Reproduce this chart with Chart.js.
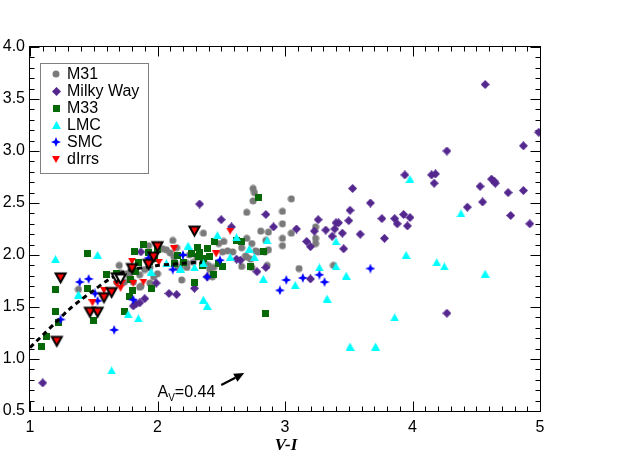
<!DOCTYPE html>
<html><head><meta charset="utf-8">
<script src="https://cdn.jsdelivr.net/npm/chart.js@4.4.0/dist/chart.umd.min.js"></script>
<style>html,body{margin:0;padding:0;background:#fff;}canvas{display:block;}</style>
</head><body>
<canvas id="c" width="639" height="471"></canvas>
<script>
// ---------- data (V-I, y) ----------
const m31 = [[2.75,2.64],[2.76,2.60],[2.75,2.52],[3.05,2.54],[2.70,2.41],[2.98,2.42],[2.98,2.30],[2.81,2.23],[2.87,2.22],[3.05,2.21],
[2.98,2.16],[2.70,2.16],[2.74,2.11],[2.85,2.14],[2.98,2.09],[2.66,2.07],[2.77,2.04],[2.87,2.05],[2.70,1.98],[2.73,1.96],
[3.11,1.87],[3.38,1.90],[3.24,2.27],[3.24,2.16],[3.24,2.11],[2.36,2.21],[2.52,2.13],[2.48,2.11],[2.12,2.14],[2.59,2.03],
[2.55,2.04],[2.69,1.99],[2.79,2.03],[2.84,2.03],[2.86,1.90],[2.66,1.89],[2.74,1.88],[2.36,1.95],[2.40,1.90],[2.44,1.88],
[2.41,1.86],[2.25,2.00],[2.20,1.93],[2.23,1.92],[2.28,1.93],[2.13,1.98],[2.43,1.79],[2.51,2.03],[1.93,2.09],[2.04,2.06],
[2.07,2.05],[2.10,2.02],[2.14,1.92],[2.16,1.88],[2.19,1.76],[2.23,1.88],[1.70,1.90],[1.71,1.83],[1.76,1.82],[1.81,1.86],
[1.86,1.81],[1.90,1.86],[1.93,1.88],[1.86,1.69],[2.00,1.82],[1.97,1.79],[1.74,1.74],[1.68,1.74],[1.78,1.79],[1.94,1.73],
[1.38,1.67],[2.31,1.98],[2.37,1.92],[2.18,1.88],[1.94,1.88],[1.79,1.85],[1.87,1.70],[1.81,1.74],[2.15,2.07]];
const milkyWay = [[4.57,3.64],[4.99,3.18],[4.87,3.05],[4.27,3.00],[3.94,2.77],[4.15,2.77],[4.18,2.78],[4.17,2.69],[4.53,2.66],[4.62,2.73],
[4.64,2.71],[4.65,2.69],[4.75,2.60],[4.87,2.62],[4.43,2.46],[4.55,2.51],[4.77,2.38],[4.92,2.30],[3.76,2.35],[3.86,2.35],
[3.88,2.30],[3.93,2.39],[3.96,2.28],[3.98,2.36],[3.78,2.16],[4.27,1.44],[3.53,2.64],[3.67,2.50],[3.51,2.43],[2.85,2.39],
[3.26,2.34],[2.91,2.27],[3.09,2.25],[3.23,2.23],[3.32,2.24],[3.40,2.31],[3.42,2.31],[3.50,2.33],[3.39,2.25],[3.45,2.21],
[3.37,2.18],[3.59,2.20],[3.17,2.13],[3.20,2.08],[3.46,2.06],[2.85,1.88],[2.78,1.84],[3.20,1.77],[2.62,1.96],[2.65,1.95],
[2.33,2.49],[2.50,2.34],[2.58,2.27],[2.39,1.79],[1.87,2.03],[1.99,1.73],[2.09,1.63],[2.15,1.62],[2.29,1.68],[1.10,0.77],
[1.81,1.51],[1.83,1.53],[1.86,1.54],[1.90,1.58]];
const m33 = [[1.45,2.01],[1.20,1.67],[1.20,1.46],[1.22,1.35],[1.13,1.22],[1.09,1.12],[1.45,1.68],[1.50,1.37],[1.60,1.81],[1.68,1.82],
[1.74,1.46],[1.78,1.60],[1.80,1.66],[1.82,2.03],[1.89,2.10],[1.85,1.93],[1.95,1.68],[1.94,1.94],[2.00,2.05],[1.79,1.76],
[2.29,1.74],[2.32,1.99],[2.13,1.92],[1.93,2.02],[1.98,1.97],[1.83,1.84],[2.16,2.00],[2.31,2.07],[2.39,2.06],[2.41,1.99],
[2.45,2.13],[2.44,1.81],[2.51,1.89],[2.79,2.55],[2.66,2.13],[2.62,2.14],[2.33,2.02],[2.36,1.97],[2.20,1.93],[2.83,2.03],
[2.48,1.92],[2.73,1.89],[2.27,2.01],[2.35,1.90],[2.85,1.44]];
const lmc = [[1.20,1.96],[1.53,2.00],[1.38,1.62],[1.77,1.43],[1.85,1.39],[1.64,0.89],[1.95,1.84],[2.07,1.92],[2.18,1.87],[2.24,2.09],
[2.29,1.88],[2.36,1.92],[2.47,2.19],[2.62,2.17],[2.72,2.06],[2.76,1.98],[2.86,2.14],[2.57,1.98],[2.36,1.57],[2.39,1.51],
[3.40,2.13],[3.95,2.00],[4.19,1.93],[4.25,1.89],[4.57,1.82],[3.27,1.88],[3.40,1.89],[3.48,1.80],[2.83,1.77],[3.08,1.71],
[3.33,1.58],[3.86,1.40],[3.51,1.12],[3.71,1.12],[3.98,2.73],[4.38,2.40]];
const smc = [[1.39,1.74],[1.46,1.77],[1.51,1.63],[1.53,1.56],[1.24,1.38],[1.66,1.28],[1.81,1.57],[1.93,1.97],[2.12,1.86],[2.20,2.00],
[2.39,1.79],[2.49,1.95],[3.01,1.76],[2.96,1.66],[3.67,1.87],[3.14,1.78],[3.27,1.81],[3.31,1.74]];
const dIrrs = [[1.49,1.54],[1.80,1.94],[1.81,1.73],[1.89,1.74],[2.01,1.93],[2.13,2.06],[1.58,1.66],[1.68,1.72],[1.72,1.73],[1.71,1.68],
[2.57,2.23],[2.46,2.01]];
const dIrrsBig = [[1.24,1.78],[1.21,1.17],[1.47,1.45],[1.53,1.45],[1.58,1.59],[1.64,1.64],[1.80,1.87],[1.93,1.91],[1.97,1.98],[2.00,2.08],[2.29,2.23]];
const dIrrsOpen = [[1.68,1.78],[1.71,1.77]];
const curveX = [1.00,1.05,1.10,1.20,1.30,1.40,1.50,1.60,1.70,1.80,1.90,2.00,2.10,2.20,2.30,2.35];
const curveY = [1.11,1.17,1.23,1.35,1.47,1.57,1.66,1.75,1.82,1.86,1.88,1.90,1.91,1.92,1.93,1.93];
const xTicks = [1,2,3,4,5];
const yTicks = [0.5,1.0,1.5,2.0,2.5,3.0,3.5,4.0];
const seriesLabels = ['M31','Milky Way','M33','LMC','SMC','dIrrs'];
const arrowFrom = [2.50,0.75], arrowTo = [2.68,0.865];
const avText = {pos:[2.00,0.635], main:'A', sub:'V', rest:'=0.44'};
const xTitle = 'V-I';

// ---------- styles ----------
const COL = {m31:'#7a7a7a', mw:'#54278f', m33:'#066806', lmc:'#00ffff', smc:'#0000ff', dirr:'#ff0000'};
function mk(w,h,fn){const c=document.createElement('canvas');c.width=w;c.height=h;const g=c.getContext('2d');fn(g);return c;}
function poly(g,pts){g.beginPath();g.moveTo(pts[0][0],pts[0][1]);for(let i=1;i<pts.length;i++)g.lineTo(pts[i][0],pts[i][1]);g.closePath();}
const imgM31 = mk(8,8,g=>{g.fillStyle=COL.m31;g.beginPath();g.arc(4,4,3.5,0,Math.PI*2);g.fill();});
const imgMW  = mk(9,9,g=>{g.fillStyle=COL.mw;poly(g,[[4.5,0],[9,4.5],[4.5,9],[0,4.5]]);g.fill();});
const imgM33 = mk(7,7,g=>{g.fillStyle=COL.m33;g.fillRect(0,0,7,7);});
const imgLMC = mk(9,8,g=>{g.fillStyle=COL.lmc;poly(g,[[4.5,0],[9,8],[0,8]]);g.fill();});
const imgSMC = mk(10,10,g=>{g.fillStyle=COL.smc;poly(g,[[5,0],[6.4,3.6],[10,5],[6.4,6.4],[5,10],[3.6,6.4],[0,5],[3.6,3.6]]);g.fill();});
const imgDI  = mk(8,7,g=>{g.fillStyle=COL.dirr;poly(g,[[0,0],[8,0],[4,7]]);g.fill();});
function bigTri(fill){return mk(15,14,g=>{g.fillStyle=fill;g.strokeStyle='#000';g.lineWidth=2;poly(g,[[2.5,2.5],[12.5,2.5],[7.5,11.5]]);g.fill();g.stroke();});}
const imgBig = bigTri(COL.dirr), imgOpen = bigTri('#ffffff');
const legendImgs = [imgM31,imgMW,imgM33,imgLMC,imgSMC,imgDI];

const toPts = a => a.map(p=>({x:p[0],y:p[1]}));
function ds(label,arr,img,order){return {label,data:toPts(arr),pointStyle:img,pointRadius:4,order,borderWidth:0,backgroundColor:'rgba(0,0,0,0)',borderColor:'rgba(0,0,0,0)'};}

const FONT = "'Liberation Sans', Arial, Helvetica, sans-serif";

const framePlugin = {
  id:'frame',
  beforeDatasetsDraw(chart){
    const g=chart.ctx, a=chart.chartArea, xs=chart.scales.x, ys=chart.scales.y;
    g.save(); g.strokeStyle='#000'; g.lineWidth=1;
    const L=Math.round(a.left)-0.5, R=Math.round(a.right)+0.5, T=Math.round(a.top)-0.5, B=Math.round(a.bottom)+0.5;
    g.strokeRect(L,T,R-L,B-T);
    g.beginPath();
    for(let i=Math.round(xTicks[0]*10);i<=Math.round(xTicks[xTicks.length-1]*10);i++){
      const v=i/10, p=Math.round(xs.getPixelForValue(v))+0.5, len=(i%10===0)?10:5;
      g.moveTo(p,B); g.lineTo(p,B-len); g.moveTo(p,T); g.lineTo(p,T+len);
    }
    for(let i=Math.round(yTicks[0]*10);i<=Math.round(yTicks[yTicks.length-1]*10);i++){
      const v=i/10, p=Math.round(ys.getPixelForValue(v))+0.5, len=(i%5===0)?10:5;
      g.moveTo(L,p); g.lineTo(L+len,p); g.moveTo(R,p); g.lineTo(R-len,p);
    }
    g.stroke(); g.restore();
  },
  afterDraw(chart){
    const g=chart.ctx, xs=chart.scales.x, ys=chart.scales.y;
    g.save();
    // legend
    g.strokeStyle='#808080'; g.lineWidth=1; g.strokeRect(40.5,63.5,108,110);
    g.fillStyle='#000'; g.font='16px '+FONT; g.textBaseline='middle'; g.textAlign='left';
    seriesLabels.forEach((lab,i)=>{
      const y=74+i*17, im=legendImgs[i];
      g.drawImage(im, Math.round(56-im.width/2), Math.round(y-im.height/2));
      g.fillText(lab,67,y+1);
    });
    // x title
    g.font='italic bold 17px "Liberation Serif", "Times New Roman", serif';
    g.textAlign='center'; g.textBaseline='alphabetic';
    g.fillText(xTitle, xs.getPixelForValue(3)+1, 450);
    // A_V annotation
    let tx=xs.getPixelForValue(avText.pos[0]), ty=ys.getPixelForValue(avText.pos[1]);
    g.textAlign='left'; g.font='16px '+FONT;
    g.fillText(avText.main,tx,ty); tx+=g.measureText(avText.main).width;
    g.font='10px '+FONT; g.fillText(avText.sub,tx,ty+4); tx+=g.measureText(avText.sub).width;
    g.font='16px '+FONT; g.fillText(avText.rest,tx,ty);
    // arrow
    const x0=xs.getPixelForValue(arrowFrom[0]), y0=ys.getPixelForValue(arrowFrom[1]);
    const x1=xs.getPixelForValue(arrowTo[0]), y1=ys.getPixelForValue(arrowTo[1]);
    const ang=Math.atan2(y1-y0,x1-x0), hl=10, hw=4.5;
    const bx=x1-hl*Math.cos(ang), by=y1-hl*Math.sin(ang);
    g.strokeStyle='#000'; g.lineWidth=2.2;
    g.beginPath(); g.moveTo(x0,y0); g.lineTo(bx,by); g.stroke();
    g.beginPath(); g.moveTo(x1,y1);
    g.lineTo(bx+hw*Math.sin(ang), by-hw*Math.cos(ang));
    g.lineTo(bx-hw*Math.sin(ang), by+hw*Math.cos(ang));
    g.closePath(); g.fill();
    g.restore();
  }
};

new Chart(document.getElementById('c'), {
  type:'scatter',
  data:{datasets:[
    ds(seriesLabels[0], m31, imgM31, 9),
    ds(seriesLabels[1], milkyWay, imgMW, 8),
    ds(seriesLabels[2], m33, imgM33, 7),
    ds(seriesLabels[3], lmc, imgLMC, 6),
    ds(seriesLabels[4], smc, imgSMC, 5),
    ds(seriesLabels[5], dIrrs, imgDI, 4),
    {label:'fit', data:curveX.map((x,i)=>({x,y:curveY[i]})), showLine:true, borderColor:'#000', borderWidth:3,
     borderDash:[5,4], pointRadius:0, fill:false, tension:0.3, order:3},
    ds('dIrrs (big)', dIrrsBig, imgBig, 2),
    ds('dIrrs (open)', dIrrsOpen, imgOpen, 1)
  ]},
  options:{
    responsive:false, animation:false, events:[], devicePixelRatio:1,
    layout:{padding:{top:47,right:99,left:0,bottom:0}},
    plugins:{legend:{display:false}, tooltip:{enabled:false}},
    scales:{
      x:{type:'linear', min:1, max:5,
         afterFit:s=>{s.height=60;},
         grid:{display:false, drawTicks:false}, border:{display:false},
         ticks:{values:xTicks, stepSize:1, padding:7, color:'#000', font:{family:FONT,size:16}, callback:v=>String(v), maxRotation:0}},
      y:{type:'linear', min:0.5, max:4.0,
         afterFit:s=>{s.width=30;},
         grid:{display:false, drawTicks:false}, border:{display:false},
         ticks:{stepSize:0.5, padding:5, color:'#000', font:{family:FONT,size:16}, callback:v=>Number(v).toFixed(1)}}
    }
  },
  plugins:[framePlugin]
});
</script>
</body></html>
